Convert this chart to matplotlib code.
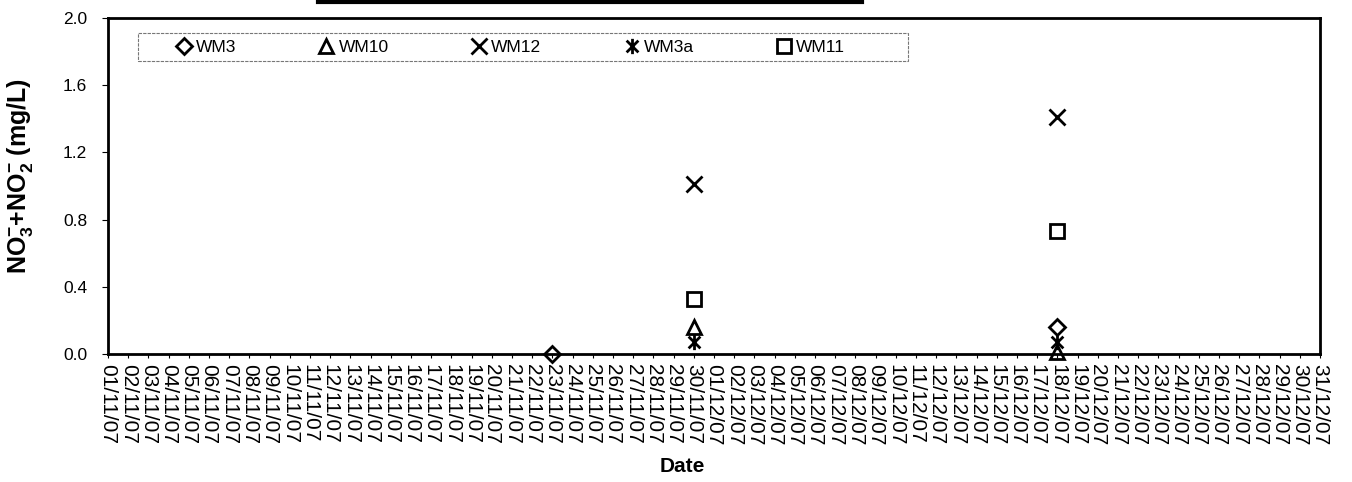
import numpy as np
import pandas as pd
import matplotlib
matplotlib.use("Agg")
import matplotlib.pyplot as plt
import matplotlib.dates as mdates
from matplotlib.path import Path
from matplotlib.lines import Line2D
from matplotlib.patches import Rectangle

plt.rcParams['font.family'] = ['Liberation Sans', 'DejaVu Sans']
plt.rcParams['mathtext.fontset'] = 'custom'
plt.rcParams['mathtext.rm'] = 'Liberation Sans'
plt.rcParams['mathtext.it'] = 'Liberation Sans:italic'
plt.rcParams['mathtext.bf'] = 'Liberation Sans:bold'

# sampling data (NO3- + NO2-, mg/L)
wm3_dates = ["2007-11-23", "2007-12-18"]
wm3_vals = [0.0, 0.16]
wm10_dates = ["2007-11-30", "2007-12-18"]
wm10_vals = [0.16, 0.01]
wm12_dates = ["2007-11-30", "2007-12-18"]
wm12_vals = [1.01, 1.41]
wm3a_dates = ["2007-11-30", "2007-12-18"]
wm3a_vals = [0.07, 0.07]
wm11_dates = ["2007-11-30", "2007-12-18"]
wm11_vals = [0.33, 0.73]

tick_days = pd.date_range("2007-11-01", "2007-12-31", freq="D")
y_ticks = [0.0, 0.4, 0.8, 1.2, 1.6, 2.0]

# asterisk: an X with a vertical bar
star = Path([(-1, -1), (1, 1), (-1, 1), (1, -1), (0, -1.3), (0, 1.3)],
            [Path.MOVETO, Path.LINETO, Path.MOVETO, Path.LINETO, Path.MOVETO, Path.LINETO])

series = [
    ("WM3", wm3_dates, wm3_vals, "D", 8),
    ("WM10", wm10_dates, wm10_vals, "^", 10),
    ("WM12", wm12_dates, wm12_vals, "x", 11),
    ("WM3a", wm3a_dates, wm3a_vals, star, 11),
    ("WM11", wm11_dates, wm11_vals, "s", 10),
]

fig = plt.figure(figsize=(13.52, 4.82), dpi=100)
ax = fig.add_axes([108/1352, 1-354/482, 1212/1352, 336/482])

for name, d, v, mk, ms in series:
    ax.plot(pd.to_datetime(d), v, linestyle="none", marker=mk, markersize=ms,
            markerfacecolor="none", markeredgecolor="black", markeredgewidth=2,
            label=name, clip_on=False)

ax.set_xlim(tick_days[0], tick_days[-1])
ax.set_ylim(0, 2.0)
ax.set_xticks(tick_days)
ax.xaxis.set_major_formatter(mdates.DateFormatter("%d/%m/%y"))
ax.set_yticks(y_ticks)
ax.set_yticklabels(["%.1f" % t for t in y_ticks])
ax.tick_params(axis="x", labelrotation=270, labelsize=15, length=3, width=0.8, pad=4)
ax.tick_params(axis="y", labelsize=12.5, length=4, width=0.8, pad=11)
for lab in ax.get_xticklabels():
    lab.set_verticalalignment("top")

for s in ax.spines.values():
    s.set_linewidth(2)
    s.set_color("black")

ax.set_xlabel("Date", fontsize=15, fontweight="bold")
ax.xaxis.set_label_coords((682-108)/1212, -(466-354)/336)
ax.xaxis.label.set_verticalalignment("center")
ax.set_ylabel(r"$\mathbf{NO_3^{-}{+}NO_2^{-}}$ (mg/L)", fontsize=18, fontweight="bold")
ax.yaxis.set_label_coords(-(108-20)/1212, (354-176)/336)
ax.yaxis.label.set_verticalalignment("center")

# legend box drawn separately so it can be wider than its entries
ax.add_patch(Rectangle((30/1212, 1-43/336), 770/1212, 28/336, transform=ax.transAxes,
                       facecolor="white", edgecolor="#777777", linewidth=0.8,
                       linestyle=(0, (3, 1)), zorder=3))
leg = ax.legend(loc="center left", bbox_to_anchor=(67/1212, 1-29/336), ncol=5, frameon=False,
                fontsize=12.5, handlelength=1.0, handletextpad=0.2, columnspacing=4.7,
                borderaxespad=0, borderpad=0)
leg.set_zorder(4)

# dark bar at the top edge (cropped title box)
fig.add_artist(Line2D([318/1352, 862/1352], [1-1.5/482, 1-1.5/482],
                      transform=fig.transFigure, color="black", lw=3))

fig.savefig("out.png", dpi=100)
